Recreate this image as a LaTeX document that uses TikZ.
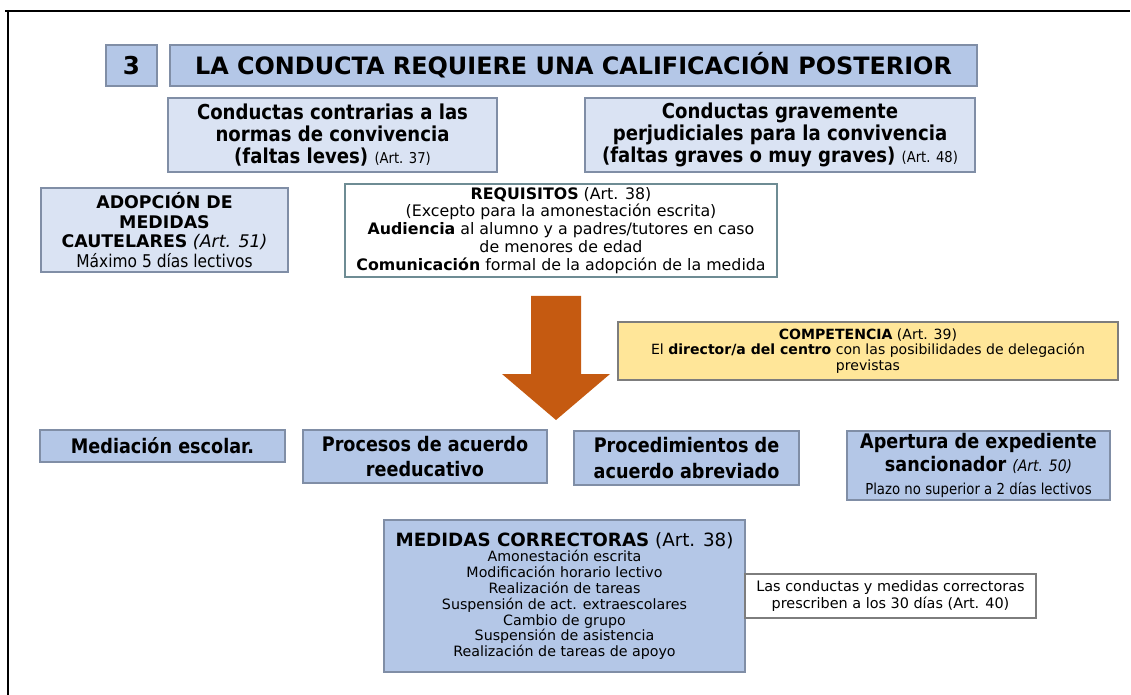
\documentclass[tikz,border=0pt]{standalone}
\usepackage{fontspec}
\setmainfont{DejaVu Sans}
\newfontfamily\narrowfont{DejaVu Sans}[FakeStretch=0.88]
\definecolor{boxblue}{RGB}{180,199,231}
\definecolor{paleblue}{RGB}{218,227,243}
\definecolor{boxline}{RGB}{128,142,166}
\definecolor{reqline}{RGB}{110,140,148}
\definecolor{compyellow}{RGB}{255,230,153}
\definecolor{compline}{RGB}{125,125,125}
\definecolor{arroworange}{RGB}{197,90,17}

\newcommand{\sz}[2]{\fontsize{#1}{#2}\selectfont}

\tikzset{
  blk/.style={draw=boxline, line width=0.6pt, inner sep=0pt, align=center},
  bluebox/.style={blk, fill=boxblue},
  palebox/.style={blk, fill=paleblue},
  reqbox/.style={blk, draw=reqline, fill=white},
  compbox/.style={blk, draw=compline, fill=compyellow},
  notebox/.style={blk, draw=compline, fill=white},
  rowtext/.style={font=\narrowfont\bfseries\sz{11.4}{14.5}},
  % box from corner (#1,#2) to corner (#3,#4), in pixels
  span/.style n args={4}{minimum width={(#3-#1)*0.02cm}, minimum height={(#4-#2)*0.02cm},
    at={({(#1+#3)/2},{(#2+#4)/2})}}
}

\begin{document}
\begin{tikzpicture}[x=0.02cm, y=-0.02cm]
  \useasboundingbox (0,0) rectangle (1131,695);

  % frame
  \draw [line width=1.3pt] (5,11) -- (1130,11);
  \draw [line width=0.8pt] (8,11) -- (8,695);

  % heading
  \node [bluebox, span={106}{45}{157}{86}, font=\bfseries\sz{14}{16}] (num) {3};
  \node [bluebox, span={170}{45}{977}{86}, font=\bfseries\sz{13.6}{16}] (title)
    {LA CONDUCTA REQUIERE UNA CALIFICACIÓN POSTERIOR};

  \node [palebox, span={168}{98}{497}{172}, font=\narrowfont\bfseries\sz{11.7}{12.6}] (leves)
    {Conductas contrarias a las\\normas de convivencia\\(faltas leves) {\mdseries\sz{8.5}{12.6}(Art. 37)}};
  \node [palebox, span={585}{98}{975}{172}, font=\narrowfont\bfseries\sz{11.7}{12.6}] (graves)
    {Conductas gravemente\\perjudiciales para la convivencia\\(faltas graves o muy graves) {\mdseries\sz{8.5}{12.6}(Art. 48)}};

  \node [palebox, span={41}{188}{288}{272}, font=\sz{9.9}{11.2}] (cautelares)
    {\textbf{ADOPCIÓN DE}\\\textbf{MEDIDAS}\\\textbf{CAUTELARES} \textit{(Art. 51)}\\{\narrowfont\sz{10}{11.2}Máximo 5 días lectivos}};

  \node [reqbox, span={345}{184}{777}{277}, font=\sz{9}{10.2}] (requisitos)
    {\textbf{REQUISITOS} (Art. 38)\\(Excepto para la amonestación escrita)\\\textbf{Audiencia} al alumno y a padres/tutores en caso\\de menores de edad\\\textbf{Comunicación} formal de la adopción de la medida};

  % big arrow
  \fill [arroworange] (531,296) -- (581,296) -- (581,374) -- (610,374) -- (556,420)
    -- (502,374) -- (531,374) -- cycle;

  \node [compbox, span={618}{322}{1118}{380}, font=\sz{8}{8.8}] (competencia)
    {\textbf{COMPETENCIA} (Art. 39)\\El \textbf{director/a del centro} con las posibilidades de delegación\\previstas};

  % procedures
  \node [bluebox, rowtext, span={40}{430}{285}{462}] (mediacion) {Mediación escolar.};
  \node [bluebox, rowtext, span={303}{430}{547}{483}] (reeducativo) {Procesos de acuerdo\\reeducativo};
  \node [bluebox, rowtext, span={574}{431}{799}{485}] (abreviado) {Procedimientos de\\acuerdo abreviado};
  \node [bluebox, rowtext, span={847}{431}{1110}{500}, font=\narrowfont\bfseries\sz{11.4}{13}] (expediente)
    {Apertura de expediente\\sancionador {\mdseries\itshape\sz{9}{13}(Art. 50)}\\{\mdseries\sz{8.6}{11}Plazo no superior a 2 días lectivos}};

  % measures
  \node [bluebox, span={384}{520}{745}{672}, font=\sz{8.1}{9}] (medidas)
    {{\sz{10.4}{12}\textbf{MEDIDAS CORRECTORAS} (Art. 38)}\\Amonestación escrita\\Modificación horario lectivo\\Realización de tareas\\Suspensión de act. extraescolares\\Cambio de grupo\\Suspensión de asistencia\\Realización de tareas de apoyo};
  \node [notebox, span={745}{574}{1036}{618}, font=\sz{8.2}{10}] (prescripcion)
    {Las conductas y medidas correctoras\\prescriben a los 30 días (Art. 40)};

\end{tikzpicture}
\end{document}
